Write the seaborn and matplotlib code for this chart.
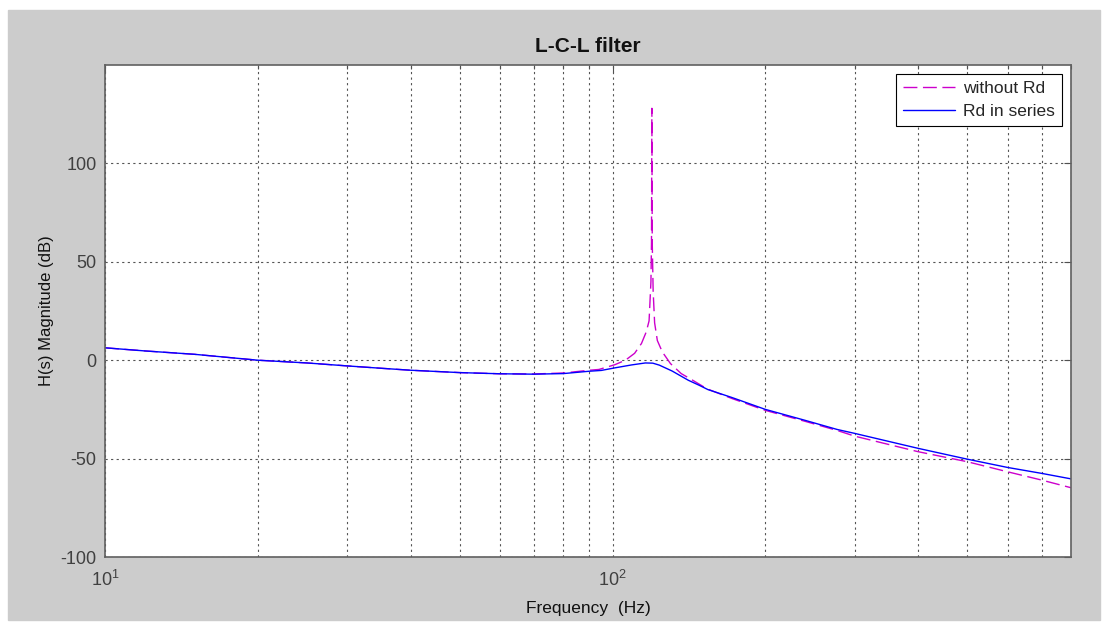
import numpy as np
import pandas as pd
import matplotlib
matplotlib.use("Agg")
import matplotlib.pyplot as plt
from matplotlib.patches import Rectangle
from matplotlib.ticker import LogLocator, NullFormatter, FixedLocator
import seaborn as sns

# Frequency response of the L-C-L filter (magnitude in dB)
freq_no_rd = [10, 12, 15, 20, 25, 30, 35, 40, 50, 60, 70, 80, 90, 94, 101,
              106, 110.5, 114, 116.5, 118, 119, 119.3, 119.5, 119.7, 120.2,
              121, 122.5, 125.3, 130, 136.5, 144.5, 153.6, 172, 200, 239,
              277, 300, 400, 500, 600, 700, 800]
mag_no_rd = [6.3, 4.7, 3.0, 0.0, -1.4, -2.9, -4.1, -5.1, -6.3, -6.9, -7.0,
             -6.5, -5.1, -4.7, -2.3, 0.0, 3.5, 8.5, 14.4, 20.0, 40.0, 60.0,
             128.0, 60.0, 35.0, 19.0, 10.0, 4.2, -1.7, -6.8, -10.5, -14.6,
             -19.5, -25.5, -31.0, -35.7, -38.6, -46.5, -51.6, -56.7, -60.9,
             -64.8]

freq_rd = [10, 12, 15, 20, 25, 30, 35, 40, 50, 60, 70, 80, 90, 95, 101, 109,
           116, 120, 123.6, 131, 141, 148, 154, 172, 200, 239, 277, 300, 400,
           500, 600, 700, 800]
mag_rd = [6.3, 4.7, 3.0, 0.0, -1.4, -2.9, -4.1, -5.1, -6.3, -6.9, -7.1, -6.8,
          -5.6, -5.2, -3.9, -2.4, -1.4, -1.5, -2.5, -5.5, -10.2, -12.7, -14.9,
          -19.0, -25.0, -30.5, -35.2, -37.2, -44.8, -50.3, -54.5, -57.5,
          -60.3]

series_names = ["without Rd", "Rd in series"]
y_ticks = [-100, -50, 0, 50, 100]
x_ticks = [10, 100]
x_tick_labels = [r"$\mathregular{10^{1}}$", r"$\mathregular{10^{2}}$"]

df = pd.concat([
    pd.DataFrame({"f": freq_no_rd, "mag": mag_no_rd, "case": series_names[0]}),
    pd.DataFrame({"f": freq_rd, "mag": mag_rd, "case": series_names[1]}),
])

sns.set_style("white")
plt.rcParams["font.family"] = ["Liberation Sans", "DejaVu Sans"]
plt.rcParams["mathtext.fontset"] = "custom"
plt.rcParams["mathtext.rm"] = "Liberation Sans"
plt.rcParams["axes.unicode_minus"] = False

fig = plt.figure(figsize=(11.07, 6.24), dpi=100, facecolor="white")
fig.patches.append(Rectangle((8 / 1107, 4 / 624), 1092 / 1107, 610 / 624,
                             transform=fig.transFigure, color="#cccccc",
                             zorder=-10))
ax = fig.add_axes([105 / 1107, 1 - 557 / 624, 966 / 1107, 492 / 624])
ax.set_facecolor("white")

sns.lineplot(data=df[df["case"] == series_names[0]], x="f", y="mag",
             ax=ax, color="#cc00cc", linewidth=1.0, label=series_names[0],
             estimator=None, sort=False, dashes=False)
ax.lines[-1].set_dashes((10, 4))
sns.lineplot(data=df[df["case"] == series_names[1]], x="f", y="mag",
             ax=ax, color="#0000ff", linewidth=1.0, label=series_names[1],
             estimator=None, sort=False)

ax.set_xscale("log")
ax.set_xlim(10, 800)
ax.set_ylim(-100, 150)

ax.xaxis.set_major_locator(FixedLocator(x_ticks))
ax.set_xticklabels(x_tick_labels)
ax.xaxis.set_minor_locator(LogLocator(base=10, subs=np.arange(2, 10)))
ax.xaxis.set_minor_formatter(NullFormatter())
ax.set_yticks(y_ticks)

grid_kw = dict(color="#555555", linestyle=(0, (2, 3)), linewidth=0.8)
ax.grid(True, which="major", axis="both", **grid_kw)
ax.grid(True, which="minor", axis="x", **grid_kw)

for s in ax.spines.values():
    s.set_visible(True)
    s.set_color("#606060")
    s.set_linewidth(1.2)

ax.tick_params(axis="both", which="both", direction="in", top=True,
               right=True, colors="#505050", labelcolor="#404040",
               labelsize=13)
ax.tick_params(axis="both", which="major", length=5, width=0.8)
ax.tick_params(axis="x", which="minor", length=3, width=0.8)
ax.tick_params(axis="x", which="major", pad=9)
ax.tick_params(axis="y", which="major", pad=6)

ax.set_title("L-C-L filter", fontsize=15, fontweight="bold", pad=9,
             color="#111111")
ax.set_xlabel("Frequency  (Hz)", fontsize=12.5, labelpad=8, color="#111111")
ax.set_ylabel("H(s) Magnitude (dB)", fontsize=12, labelpad=5,
              color="#111111")

leg = ax.legend(loc="upper right", fontsize=12.5, frameon=True,
                fancybox=False, framealpha=1, edgecolor="black",
                borderaxespad=0.5, handlelength=3.0, borderpad=0.4,
                labelspacing=0.45, handletextpad=0.5)
leg.get_frame().set_linewidth(0.8)

fig.savefig("out.png", dpi=100, facecolor=fig.get_facecolor())
